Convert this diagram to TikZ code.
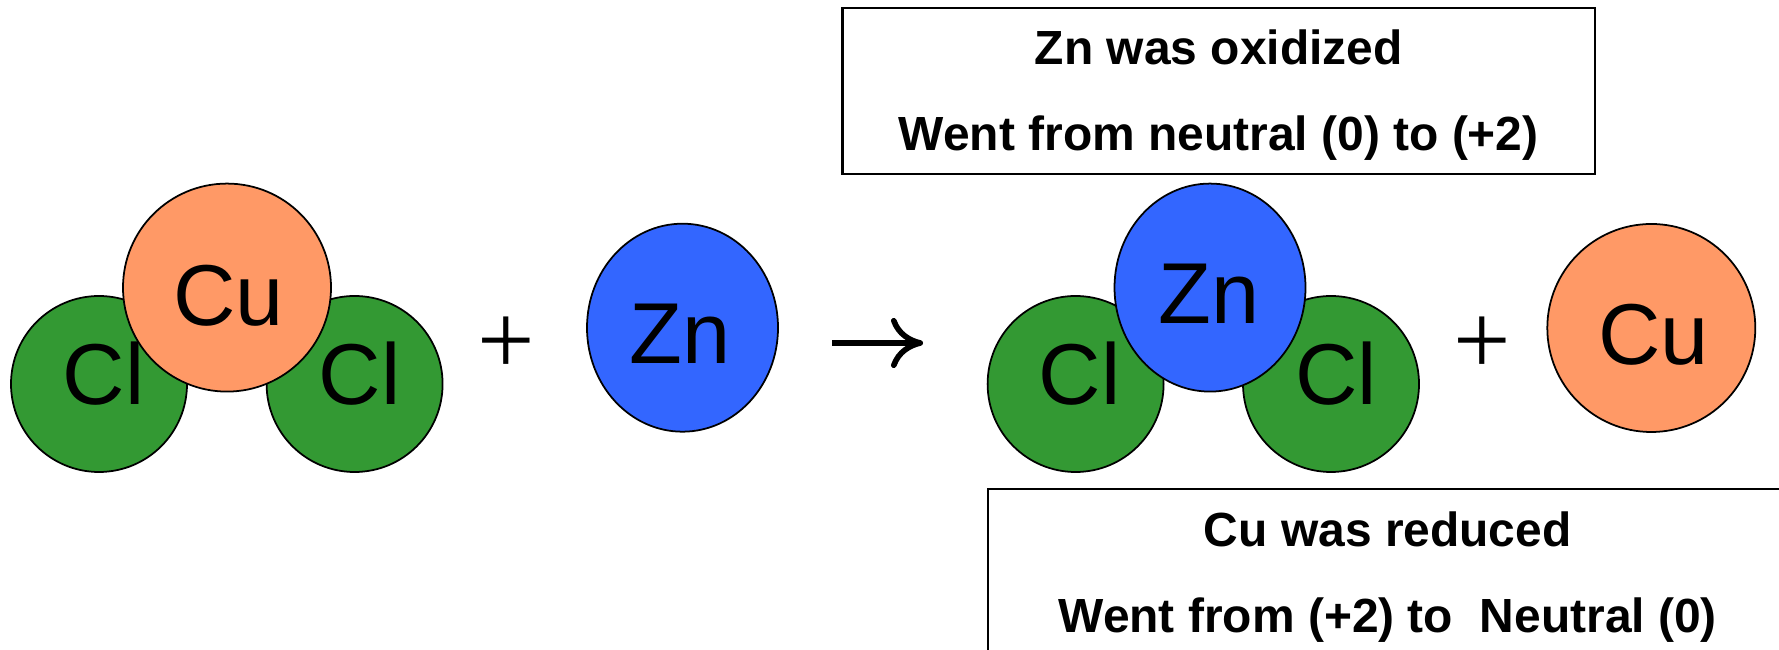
\documentclass[tikz,border=0pt]{standalone}
\usepackage{fontspec}
\setmainfont{Liberation Sans}
\newfontfamily\plusfont{Liberation Serif}
\usetikzlibrary{arrows.meta}
\usetikzlibrary{shapes.geometric}
\definecolor{clgreen}{HTML}{339933}
\definecolor{cuorange}{HTML}{FF9966}
\definecolor{znblue}{HTML}{3366FF}
\newcommand{\boxstrut}{\rule{0pt}{12.6pt}}
\tikzset{
atom/.style={draw=black,ellipse,line width=0.5pt,inner sep=0pt},
clatom/.style={atom,fill=clgreen,minimum width=1.76cm,minimum height=1.76cm},
cuatom/.style={atom,fill=cuorange,minimum width=2.08cm,minimum height=2.08cm},
znatom/.style={atom,fill=znblue,minimum width=1.91cm,minimum height=2.08cm},
atomlabel/.style={anchor=base,inner sep=0pt,font=\fontsize{24.6}{30}\selectfont},
pluslabel/.style={anchor=base,inner sep=0pt,font=\fontsize{29}{30}\selectfont\plusfont},
notebox/.style={draw=black,line width=0.6pt,fill=white,align=center,inner sep=0pt,minimum height=1.66cm,font=\fontsize{13.64}{24.47}\selectfont\bfseries}
}
\begin{document}
\begin{tikzpicture}
\useasboundingbox (0,0) rectangle (17.79,6.5);
\node[clatom] (cl1) at (0.99,2.66) {};
\node[clatom] (cl2) at (3.546,2.66) {};
\node[cuatom] (cu1) at (2.27,3.624) {};
\node[atomlabel] (cl1t) at (1.037,2.45) {Cl};
\node[atomlabel] (cl2t) at (3.595,2.45) {Cl};
\node[atomlabel] (cu1t) at (2.287,3.24) {Cu};
\node[pluslabel] (plus1) at (5.06,2.75) {+};
\node[znatom] (zn1) at (6.825,3.223) {};
\node[atomlabel] (zn1t) at (6.797,2.86) {Zn};
\coordinate (arrowa) at (8.32,3.07);
\coordinate (arrowb) at (9.23,3.07);
\draw[-{Computer Modern Rightarrow[length=0.32cm,width=0.5cm,line width=1.6pt]},line width=1.7pt] (arrowa) -- (arrowb);
\node[clatom] (cl3) at (10.756,2.66) {};
\node[clatom] (cl4) at (13.31,2.66) {};
\node[znatom] (zn2) at (12.10,3.624) {};
\node[atomlabel] (cl3t) at (10.797,2.45) {Cl};
\node[atomlabel] (cl4t) at (13.363,2.45) {Cl};
\node[atomlabel] (zn2t) at (12.087,3.26) {Zn};
\node[pluslabel] (plus2) at (14.82,2.75) {+};
\node[cuatom] (cu2) at (16.513,3.22) {};
\node[atomlabel] (cu2t) at (16.534,2.85) {Cu};
\node[notebox,minimum width=7.525cm] (oxbox) at (12.1875,5.594) {\boxstrut Zn was oxidized\\Went from neutral (0) to (+2)};
\node[notebox,minimum width=8cm,anchor=north west] (redbox) at (9.867,1.62) {\boxstrut Cu was reduced\\Went from (+2) to \ Neutral (0)};
\end{tikzpicture}
\end{document}
